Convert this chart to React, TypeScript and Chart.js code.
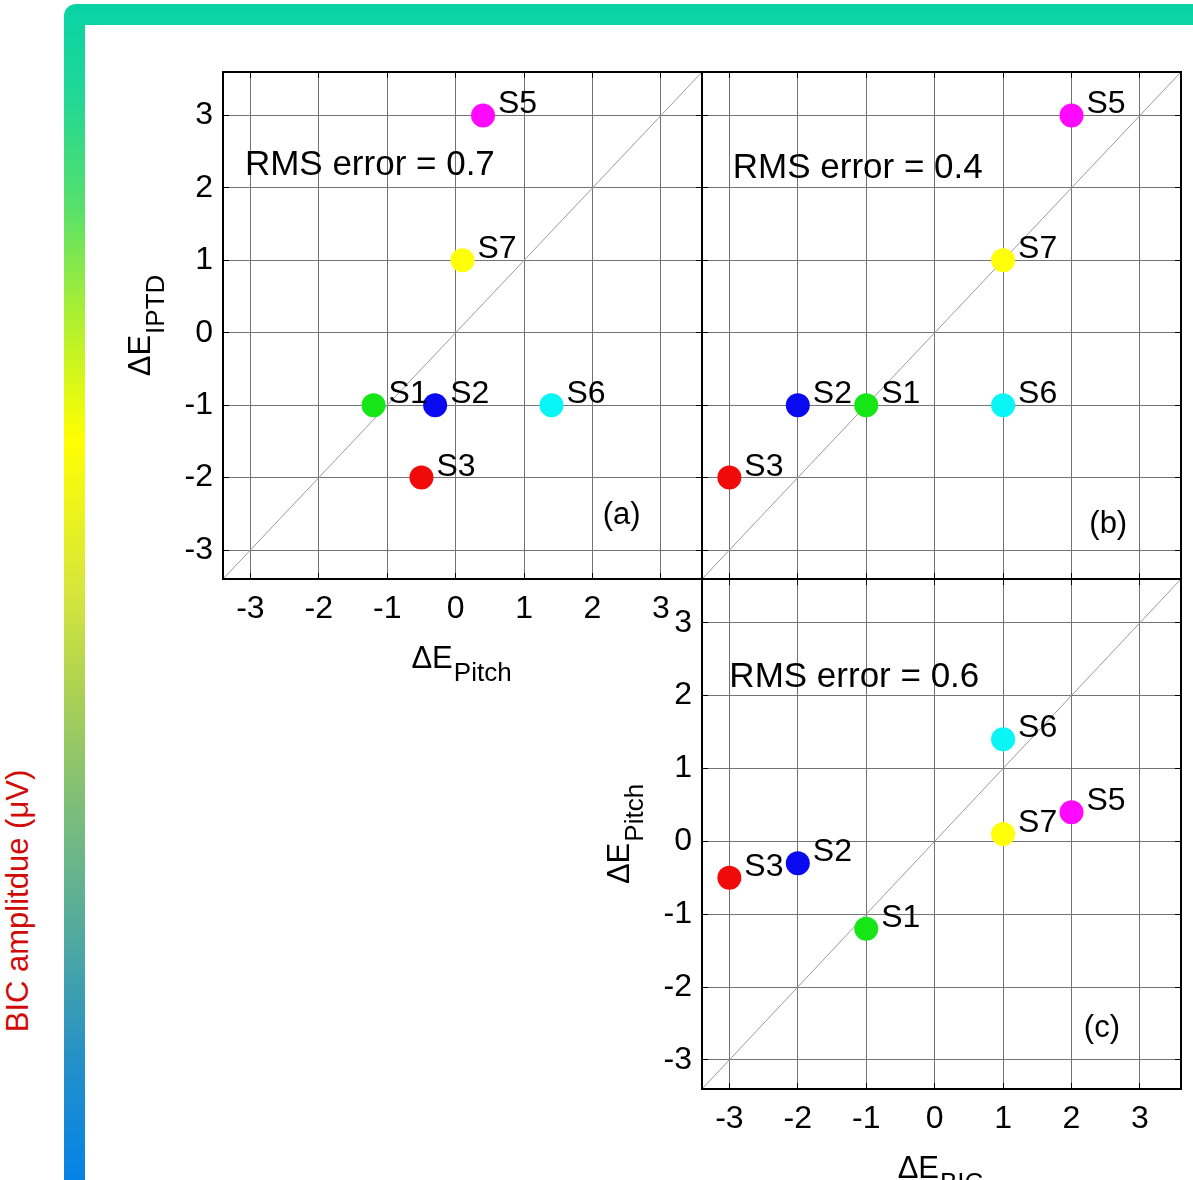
import React, { useEffect, useRef } from "react";
import { Chart, registerables } from "chart.js";

Chart.register(...registerables);

// ---------------- data ----------------
const SUBJECTS = ["S1", "S2", "S3", "S5", "S6", "S7"];
const SUBJECT_COLORS = ["#16e616", "#0a0af0", "#f00a0a", "#ff0aff", "#0af5f5", "#ffff0a"];
const DELTA_E_PITCH = [-1.2, -0.3, -0.5, 0.4, 1.4, 0.1];
const DELTA_E_IPTD = [-1, -1, -2, 3, -1, 1];
const DELTA_E_BIC = [-1, -2, -3, 2, 1, 1];
const AXIS_TICKS = [-3, -2, -1, 0, 1, 2, 3];
const AXIS_RANGE = [-3.4, 3.6];
const RMS_TEXT = ["RMS error = 0.7", "RMS error = 0.4", "RMS error = 0.6"];
const PANEL_TAGS = ["(a)", "(b)", "(c)"];
const COLORBAR_LABEL = "BIC amplitdue (μV)";

// ---------------- styles ----------------
const FAMILY = '"Liberation Sans", Arial, sans-serif';
const GRID = "#737373";
const DIAG = "#9a9a9a";
const TICK_LEN = 6;
const TITLE_MAIN = `31px ${FAMILY}`;
const TITLE_SUB = `26px ${FAMILY}`;
const FRAME_GRADIENT =
  "linear-gradient(to bottom, #08d3a6 0%, #22d796 8%, #55e06c 17%, #a8ee34 26%, #ffff00 37%, #d6e63c 50%, #aed252 58%, #7ebe78 68%, #52aa9e 79%, #2490c8 90%, #0482e6 100%)";

type Panel = {
  id: string;
  xs: number[];
  ys: number[];
  rms: string;
  tag: string;
  canvas: { left: number; top: number; width: number; height: number };
  area: { left: number; top: number; right: number; bottom: number };
  showXTicks: boolean;
  showYTicks: boolean;
  xTitle: [string, string] | null;
  yTitle: [string, string] | null;
  rmsAt: [number, number];
  tagAt: [number, number];
};

const PANELS: Panel[] = [
  {
    id: "a",
    xs: DELTA_E_PITCH,
    ys: DELTA_E_IPTD,
    rms: RMS_TEXT[0],
    tag: PANEL_TAGS[0],
    canvas: { left: 100, top: 36, width: 620, height: 664 },
    area: { left: 223, top: 72, right: 702, bottom: 579 },
    showXTicks: true,
    showYTicks: true,
    xTitle: ["ΔE", "Pitch"],
    yTitle: ["ΔE", "IPTD"],
    rmsAt: [-3.08, 2.18],
    tagAt: [2.15, -2.64],
  },
  {
    id: "b",
    xs: DELTA_E_BIC,
    ys: DELTA_E_IPTD,
    rms: RMS_TEXT[1],
    tag: PANEL_TAGS[1],
    canvas: { left: 690, top: 36, width: 503, height: 564 },
    area: { left: 702, top: 72, right: 1181, bottom: 579 },
    showXTicks: false,
    showYTicks: false,
    xTitle: null,
    yTitle: null,
    rmsAt: [-2.95, 2.14],
    tagAt: [2.26, -2.77],
  },
  {
    id: "c",
    xs: DELTA_E_BIC,
    ys: DELTA_E_PITCH,
    rms: RMS_TEXT[2],
    tag: PANEL_TAGS[2],
    canvas: { left: 560, top: 543, width: 633, height: 637 },
    area: { left: 702, top: 579, right: 1181, bottom: 1089 },
    showXTicks: true,
    showYTicks: true,
    xTitle: ["ΔE", "BIC"],
    yTitle: ["ΔE", "Pitch"],
    rmsAt: [-3.0, 2.12],
    tagAt: [2.18, -2.69],
  },
];

function axis(showTicks: boolean, size: number, horizontal: boolean) {
  return {
    type: "linear" as const,
    min: AXIS_RANGE[0],
    max: AXIS_RANGE[1],
    bounds: "data" as const,
    afterBuildTicks: (s: any) => {
      s.ticks = AXIS_TICKS.map((v) => ({ value: v }));
    },
    afterFit: (s: any) => {
      if (horizontal) s.height = size;
      else s.width = size;
    },
    ticks: {
      display: showTicks,
      color: "#000",
      font: { family: FAMILY, size: 32 },
      padding: horizontal ? 11 : 10,
      autoSkip: false,
      maxRotation: 0,
      minRotation: 0,
      callback: (v: any) => String(v),
    },
    grid: { color: GRID, lineWidth: 1, drawTicks: false },
    border: { display: false },
  };
}

function drawTitle(
  ctx: CanvasRenderingContext2D,
  parts: [string, string],
  cx: number,
  cy: number,
  rotate: boolean,
  subShift: number
) {
  ctx.save();
  ctx.translate(cx, cy);
  if (rotate) ctx.rotate(-Math.PI / 2);
  ctx.font = TITLE_MAIN;
  const wm = ctx.measureText(parts[0]).width;
  ctx.font = TITLE_SUB;
  const ws = ctx.measureText(parts[1]).width;
  const start = -(wm + ws + 1) / 2;
  ctx.fillStyle = "#000";
  ctx.textAlign = "left";
  ctx.textBaseline = "alphabetic";
  ctx.font = TITLE_MAIN;
  ctx.fillText(parts[0], start, 0);
  ctx.font = TITLE_SUB;
  ctx.fillText(parts[1], start + wm + 1, subShift);
  ctx.restore();
}

function decor(p: Panel) {
  return {
    id: "decor_" + p.id,
    afterDraw(chart: any) {
      const { ctx, chartArea: ca, scales } = chart;
      const xs = scales.x;
      const ys = scales.y;
      const al = (v: number) => Math.round(v - 0.5) + 0.5;
      ctx.save();
      // inward ticks on all four sides
      ctx.strokeStyle = "#000";
      ctx.lineWidth = 1;
      ctx.beginPath();
      AXIS_TICKS.forEach((t) => {
        const px = al(xs.getPixelForValue(t));
        ctx.moveTo(px, ca.bottom);
        ctx.lineTo(px, ca.bottom - TICK_LEN);
        ctx.moveTo(px, ca.top);
        ctx.lineTo(px, ca.top + TICK_LEN);
        const py = al(ys.getPixelForValue(t));
        ctx.moveTo(ca.left, py);
        ctx.lineTo(ca.left + TICK_LEN, py);
        ctx.moveTo(ca.right, py);
        ctx.lineTo(ca.right - TICK_LEN, py);
      });
      ctx.stroke();
      // axes box
      ctx.lineWidth = 2;
      ctx.strokeRect(ca.left, ca.top, ca.right - ca.left, ca.bottom - ca.top);

      // point labels
      ctx.fillStyle = "#000";
      ctx.textAlign = "left";
      ctx.textBaseline = "alphabetic";
      ctx.font = `32px ${FAMILY}`;
      const meta = chart.getDatasetMeta(0);
      meta.data.forEach((el: any, i: number) => {
        ctx.fillText(SUBJECTS[i], el.x + 15, el.y - 2);
      });

      // RMS annotation
      ctx.font = `35px ${FAMILY}`;
      ctx.fillText(p.rms, xs.getPixelForValue(p.rmsAt[0]), ys.getPixelForValue(p.rmsAt[1]));

      // panel tag
      ctx.font = `31px ${FAMILY}`;
      ctx.fillText(p.tag, xs.getPixelForValue(p.tagAt[0]), ys.getPixelForValue(p.tagAt[1]));

      // axis titles
      if (p.xTitle) drawTitle(ctx, p.xTitle, (ca.left + ca.right) / 2 - 1, ca.bottom + 89, false, 13);
      if (p.yTitle) drawTitle(ctx, p.yTitle, ca.left - 73, (ca.top + ca.bottom) / 2, true, 14);
      ctx.restore();
    },
  };
}

function PanelChart({ p }: { p: Panel }) {
  const ref = useRef<HTMLCanvasElement>(null);
  useEffect(() => {
    const c = p.canvas;
    const a = p.area;
    const yW = a.left - c.left;
    const padTop = a.top - c.top;
    const padRight = c.left + c.width - a.right;
    const xH = c.top + c.height - a.bottom;
    const chart = new Chart(ref.current as HTMLCanvasElement, {
      type: "scatter",
      data: {
        datasets: [
          {
            data: p.xs.map((x, i) => ({ x, y: p.ys[i] })),
            pointBackgroundColor: SUBJECT_COLORS,
            backgroundColor: SUBJECT_COLORS,
            pointRadius: 12,
            pointBorderWidth: 0,
            borderWidth: 0,
            order: 0,
          },
          {
            data: AXIS_RANGE.map((v) => ({ x: v, y: v })),
            showLine: true,
            borderColor: DIAG,
            borderWidth: 1,
            pointRadius: 0,
            order: 1,
          },
        ],
      },
      options: {
        responsive: false,
        animation: false,
        events: [],
        layout: { padding: { left: 0, top: padTop, right: padRight, bottom: 0 } },
        plugins: { legend: { display: false }, tooltip: { enabled: false } },
        scales: {
          x: axis(p.showXTicks, xH, true),
          y: axis(p.showYTicks, yW, false),
        },
      } as any,
      plugins: [decor(p)],
    });
    return () => chart.destroy();
  }, [p]);
  return (
    <canvas
      ref={ref}
      width={p.canvas.width}
      height={p.canvas.height}
      style={{
        position: "absolute",
        left: p.canvas.left,
        top: p.canvas.top,
        width: p.canvas.width,
        height: p.canvas.height,
      }}
    />
  );
}

export default function App() {
  return (
    <div
      style={{
        position: "absolute",
        left: 0,
        top: 0,
        width: 1193,
        height: 1180,
        overflow: "hidden",
        background: "#fff",
      }}
    >
      <div
        style={{
          position: "absolute",
          left: 64,
          top: 4,
          width: 1200,
          height: 1176,
          borderTopLeftRadius: 12,
          background: FRAME_GRADIENT,
        }}
      />
      <div
        style={{
          position: "absolute",
          left: 85,
          top: 25,
          width: 1200,
          height: 1200,
          background: "#fff",
        }}
      />
      <div
        style={{
          position: "absolute",
          left: 28,
          top: 901,
          width: 0,
          height: 0,
          transform: "rotate(-90deg)",
          transformOrigin: "0 0",
        }}
      >
        <span
          style={{
            position: "absolute",
            left: 0,
            top: -26,
            transform: "translateX(-50%)",
            whiteSpace: "nowrap",
            font: `31px ${FAMILY}`,
            lineHeight: "31px",
            color: "#d10a0a",
          }}
        >
          {COLORBAR_LABEL}
        </span>
      </div>
      {PANELS.map((p) => (
        <PanelChart key={p.id} p={p} />
      ))}
    </div>
  );
}
